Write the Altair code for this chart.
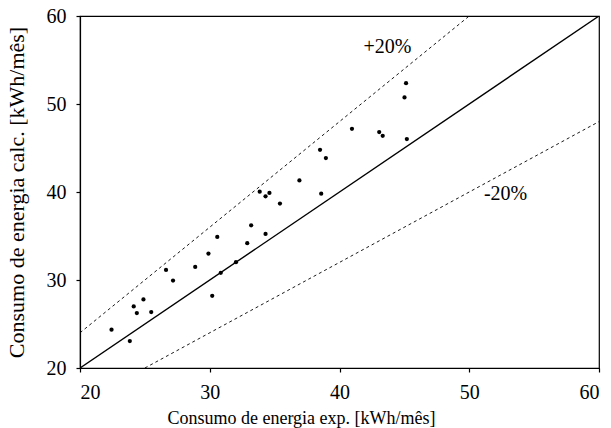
import altair as alt
import pandas as pd

exp_vals = [22.43, 23.84, 24.14, 24.38, 24.89, 25.49, 26.63, 27.17, 28.88, 29.90, 30.19,
            30.58, 30.85, 32.02, 32.89, 33.19, 33.85, 34.30, 34.60, 34.30, 35.41, 36.91,
            38.50, 38.95, 38.59, 40.96, 43.06, 43.33, 45.01, 45.13, 45.19]
calc_vals = [24.35, 23.06, 26.99, 26.24, 27.79, 26.35, 31.15, 29.94, 31.49, 33.01, 28.20,
             34.90, 30.81, 32.02, 34.18, 36.22, 40.04, 39.51, 39.89, 35.24, 38.68, 41.32,
             44.80, 43.86, 39.81, 47.18, 46.81, 46.39, 50.74, 52.36, 46.01]

line_x = [20, 60, 20, 50, 25, 60]
line_y = [20, 60, 24, 60, 20, 48]
line_id = ["eq", "eq", "p20", "p20", "m20", "m20"]

label_x = [43.7, 52.8]
label_y = [56.5, 39.8]
label_txt = ["+20%", "-20%"]

FONT = "Liberation Serif"

pts = pd.DataFrame({"x": exp_vals, "y": calc_vals})
lines = pd.DataFrame({"x": line_x, "y": line_y, "id": line_id})
labels = pd.DataFrame({"x": label_x, "y": label_y, "t": label_txt})

xs = alt.Scale(domain=[20, 60], nice=False, zero=False)
ys = alt.Scale(domain=[20, 60], nice=False, zero=False)

xax = alt.Axis(values=[20, 30, 40, 50, 60], title="Consumo de energia exp. [kWh/mês]", grid=False,
               titleFontSize=18, titlePadding=7, labelPadding=10, titleX=221, titleAlign="center")
yax = alt.Axis(values=[20, 30, 40, 50, 60], title="Consumo de energia calc. [kWh/mês]", grid=False,
               titleFontSize=22, titlePadding=18, labelPadding=10)

solid = alt.Chart(lines[lines.id == "eq"]).mark_line(color="black", strokeWidth=1.4, clip=True).encode(
    x=alt.X("x:Q", scale=xs, axis=xax), y=alt.Y("y:Q", scale=ys, axis=yax))

dashed = alt.Chart(lines[lines.id != "eq"]).mark_line(color="black", strokeWidth=0.9, strokeDash=[3, 3], clip=True).encode(
    x=alt.X("x:Q", scale=xs), y=alt.Y("y:Q", scale=ys), detail="id:N")

points = alt.Chart(pts).mark_circle(color="black", size=18, opacity=1).encode(
    x=alt.X("x:Q", scale=xs), y=alt.Y("y:Q", scale=ys))

text = alt.Chart(labels).mark_text(font=FONT, fontSize=20, color="black", align="center", baseline="middle").encode(
    x=alt.X("x:Q", scale=xs), y=alt.Y("y:Q", scale=ys), text="t:N")

chart = alt.layer(dashed, solid, points, text).properties(
    width=519, height=352,
    autosize=alt.AutoSizeParams(type="none"),
    padding={"left": 80, "top": 16, "right": 12, "bottom": 60},
    background="white",
).configure_view(stroke="black", strokeWidth=1.2).configure_axis(
    labelFont=FONT, titleFont=FONT, labelFontSize=20,
    labelColor="black", titleColor="black", titleFontWeight="normal",
    domainColor="black", tickColor="black", tickSize=4, domainWidth=1.2, tickWidth=1.2,
)

chart.save("out.html", embed_options={"renderer": "svg", "actions": False})
